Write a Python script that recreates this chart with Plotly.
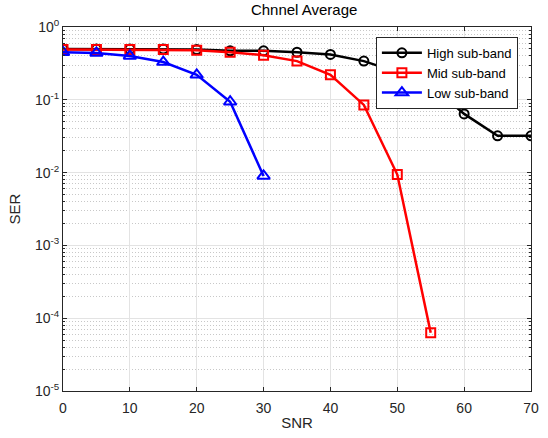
import plotly.graph_objects as go

snr = [0, 5, 10, 15, 20, 25, 30, 35, 40, 45, 50, 55, 60, 65, 70]
high = [0.5, 0.5, 0.5, 0.5, 0.49, 0.47, 0.47, 0.45, 0.42, 0.34, 0.24, 0.16, 0.064, 0.032, 0.032]
snr_mid = [0, 5, 10, 15, 20, 25, 30, 35, 40, 45, 50, 55]
mid = [0.49, 0.49, 0.49, 0.49, 0.48, 0.45, 0.41, 0.34, 0.22, 0.085, 0.0094, 6.3e-5]
snr_low = [0, 5, 10, 15, 20, 25, 30]
low = [0.45, 0.44, 0.40, 0.33, 0.22, 0.094, 0.009]

ytickvals = [1, 0.1, 0.01, 0.001, 0.0001, 0.00001]
yticktext = ["10<sup>0</sup>", "10<sup>-1</sup>", "10<sup>-2</sup>", "10<sup>-3</sup>", "10<sup>-4</sup>", "10<sup>-5</sup>"]
xtickvals = [0, 10, 20, 30, 40, 50, 60, 70]

fig = go.Figure()
fig.add_trace(go.Scatter(x=snr, y=high, name="High sub-band", mode="lines+markers",
                         line=dict(color="black", width=2.5),
                         marker=dict(symbol="circle-open", size=9, line=dict(width=2, color="black"))))
fig.add_trace(go.Scatter(x=snr_mid, y=mid, name="Mid sub-band", mode="lines+markers",
                         line=dict(color="red", width=2.5),
                         marker=dict(symbol="square-open", size=9, line=dict(width=2, color="red"))))
fig.add_trace(go.Scatter(x=snr_low, y=low, name="Low sub-band", mode="lines+markers",
                         line=dict(color="blue", width=2.5),
                         marker=dict(symbol="triangle-up-open", size=11, line=dict(width=2, color="blue"))))

axis_common = dict(showline=True, linecolor="#262626", linewidth=1, mirror="ticks",
                   ticks="inside", ticklen=4, tickcolor="#262626", automargin=False,
                   tickfont=dict(family="Liberation Sans, Arial", size=14, color="#262626"),
                   zeroline=False, gridcolor="#e3e3e3", gridwidth=1)

fig.update_layout(
    width=548, height=438,
    margin=dict(l=63, r=17, t=27, b=47),
    paper_bgcolor="white", plot_bgcolor="white",
    title=dict(text="Chnnel Average", x=0.555, xanchor="center", y=0.99, yanchor="top",
               font=dict(family="Liberation Sans, Arial", size=15, color="black")),
    xaxis=dict(range=[0, 70], tickvals=xtickvals, ticklabelstandoff=4,
               title=dict(text="SNR", font=dict(family="Liberation Sans, Arial", size=15, color="#262626"), standoff=2),
               **axis_common),
    yaxis=dict(type="log", range=[-5, 0], tickvals=ytickvals, ticktext=yticktext,
               title=dict(text="SER", font=dict(family="Liberation Sans, Arial", size=15, color="#262626"), standoff=10),
               minor=dict(showgrid=True, dtick="D1", griddash="1px,2px", gridcolor="#c8c8c8", ticks="inside", ticklen=2,
                          tickcolor="#262626"),
               **axis_common),
    legend=dict(x=0.972, y=0.973, xanchor="right", yanchor="top",
                bgcolor="white", bordercolor="#262626", borderwidth=1,
                font=dict(family="Liberation Sans, Arial", size=13, color="black"),
                tracegroupgap=0, itemwidth=40),
    showlegend=True,
)

fig.write_html("out.html", config={"displayModeBar": False},
               post_script="document.body.style.margin='0';document.body.style.overflow='hidden';")
